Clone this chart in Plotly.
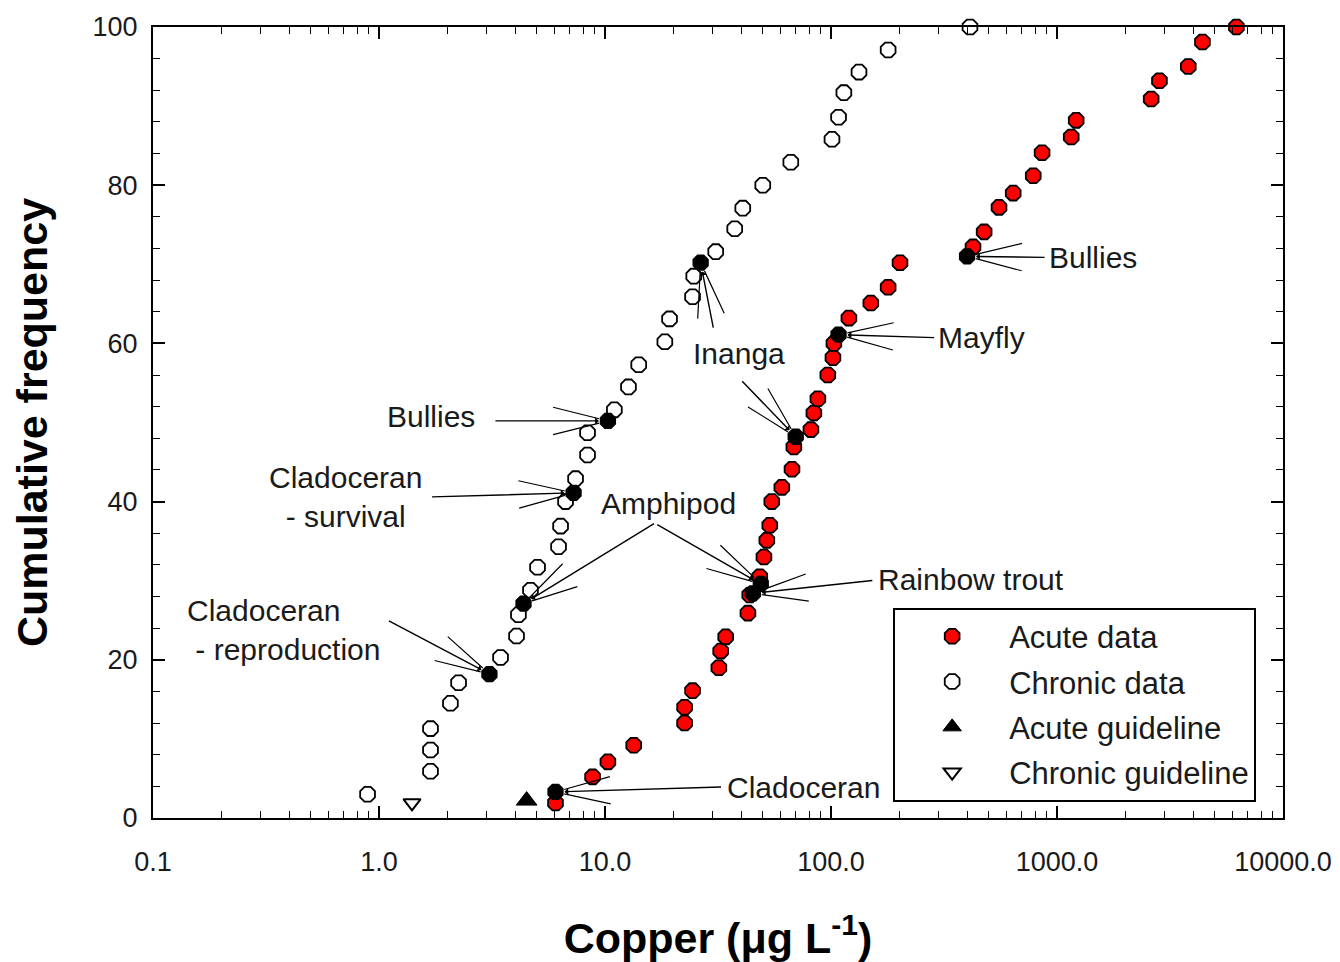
import numpy as np
import plotly.graph_objects as go

# ---------------- data ----------------
acute_x = [6.04, 8.81, 10.3, 13.4, 22.5, 22.5, 24.4, 31.9, 32.5, 34.2,
           42.9, 43.7, 48.4, 50.5, 52.0, 53.6, 54.7, 60.6, 67.2, 68.5,
           81.5, 84.0, 87.5, 96.8, 102, 103, 120, 150, 179, 202,
           425, 476, 554, 640, 785, 859, 1156, 1216, 2610, 2840,
           3810, 4400, 6220]
acute_y = [1.9, 5.2, 7.1, 9.2, 12.0, 14.0, 16.1, 19.0, 21.1, 22.9,
           25.9, 28.2, 30.5, 33.0, 35.1, 37.0, 40.0, 41.8, 44.1, 46.9,
           49.1, 51.2, 53.0, 56.0, 58.2, 60.0, 63.2, 65.1, 67.1, 70.2,
           72.2, 74.1, 77.2, 79.0, 81.2, 84.1, 86.1, 88.2, 90.9, 93.2,
           95.0, 98.1, 100.0]

chronic_x = [0.89, 1.69, 1.69, 1.69, 2.07, 2.25, 3.45, 4.06, 4.14, 4.68,
             5.03, 6.23, 6.36, 6.69, 7.41, 8.37, 8.37, 11.0, 12.7, 14.1,
             18.4, 19.3, 24.4, 24.7, 30.9, 37.5, 40.7, 49.9, 66.4, 101,
             108, 114, 133, 179, 412]
chronic_y = [3.0, 5.9, 8.6, 11.3, 14.5, 17.1, 20.3, 23.0, 25.7, 28.8,
             31.7, 34.3, 36.9, 40.0, 42.9, 45.9, 48.7, 51.6, 54.5, 57.3,
             60.2, 63.1, 65.9, 68.5, 71.6, 74.5, 77.1, 80.0, 82.9, 85.8,
             88.6, 91.7, 94.3, 97.1, 100.0]

acute_guideline_x = [4.5]
acute_guideline_y = [2.2]
chronic_guideline_x = [1.40]
chronic_guideline_y = [1.9]

# highlighted (labelled) species points
highlight_names = ["Cladoceran - reproduction", "Amphipod (chronic)", "Cladoceran - survival",
                   "Bullies (chronic)", "Inanga (chronic)", "Cladoceran (acute)",
                   "Rainbow trout", "Amphipod (acute)", "Inanga (acute)", "Mayfly",
                   "Bullies (acute)"]
highlight_x = [3.08, 4.36, 7.26, 10.3, 26.5, 6.04, 45.1, 48.9, 69.8, 108, 400]
highlight_y = [18.2, 27.1, 41.1, 50.2, 70.2, 3.3, 28.4, 29.6, 48.2, 61.1, 71.0]

# label texts with their anchor positions (data units)
label_texts = ["Bullies", "Cladoceran<br>- survival", "Cladoceran<br> - reproduction",
               "Amphipod", "Inanga", "Mayfly", "Bullies", "Rainbow trout", "Cladoceran"]
label_x = [1.69, 0.71, 0.377, 19.1, 39.1, 461, 1445, 417, 75.9]
label_y = [50.7, 40.6, 23.8, 39.8, 58.7, 60.7, 70.9, 30.1, 3.8]
label_align = ["center", "center", "left", "center", "center", "center", "center", "center", "center"]

# arrows: (highlight index, tail offset x px, tail offset y px)
arrows = [(3, -114, 0), (2, -143, 4), (0, -102, -54), (1, 132, -81), (7, -105, -60),
          (4, 13, 67), (8, -55, -57), (9, 97, 3), (10, 79, 1), (6, 121, -13), (5, 167, -5)]

FONT = "Liberation Sans, Arial, sans-serif"

fig = go.Figure()

fig.add_trace(go.Scatter(
    x=acute_x, y=acute_y, mode="markers", name="Acute data", legendgroup="a",
    marker=dict(symbol="octagon", size=16, color="#ff0000", line=dict(color="black", width=1.8)),
    cliponaxis=False))
fig.add_trace(go.Scatter(
    x=chronic_x, y=chronic_y, mode="markers", name="Chronic data", legendgroup="b",
    marker=dict(symbol="octagon", size=16, color="white", line=dict(color="black", width=1.8)),
    cliponaxis=False))
fig.add_trace(go.Scatter(
    x=acute_guideline_x, y=acute_guideline_y, mode="markers", name="Acute guideline", legendgroup="c",
    marker=dict(symbol="triangle-up", size=18, color="black", line=dict(color="black", width=1)),
    cliponaxis=False))
fig.add_trace(go.Scatter(
    x=chronic_guideline_x, y=chronic_guideline_y, mode="markers", name="Chronic guideline", legendgroup="d",
    marker=dict(symbol="triangle-down", size=15, color="white", line=dict(color="black", width=2)),
    cliponaxis=False))
fig.add_trace(go.Scatter(
    x=highlight_x, y=highlight_y, mode="markers", showlegend=False, text=highlight_names,
    marker=dict(symbol="octagon", size=16, color="black", line=dict(color="black", width=1.5)),
    cliponaxis=False))

annotations = []
for t, lx, ly, al in zip(label_texts, label_x, label_y, label_align):
    annotations.append(dict(x=np.log10(lx), y=ly, xref="x", yref="y", text=t, showarrow=False,
                            align=al, font=dict(family=FONT, size=30, color="#1a1a1a")))

BARB_LEN = 58
BARB_ANG = np.deg2rad(14)
for idx, ax, ay in arrows:
    tx, ty = np.log10(highlight_x[idx]), highlight_y[idx]
    annotations.append(dict(x=tx, y=ty, xref="x", yref="y", text=" ", showarrow=True,
                            ax=ax, ay=ay, arrowhead=1, arrowsize=0.9, arrowwidth=1.4,
                            arrowcolor="black", standoff=9, font=dict(size=1)))
    n = np.hypot(ax, ay)
    ux, uy = ax / n, ay / n
    for s in (1, -1):
        c, si = np.cos(s * BARB_ANG), np.sin(s * BARB_ANG)
        bx = BARB_LEN * (ux * c - uy * si)
        by = BARB_LEN * (ux * si + uy * c)
        annotations.append(dict(x=tx, y=ty, xref="x", yref="y", text=" ", showarrow=True,
                                ax=bx, ay=by, arrowhead=0, arrowwidth=1.2,
                                arrowcolor="black", standoff=9, font=dict(size=1)))

minor_x = [m * 10.0 ** d for d in range(-1, 4) for m in range(2, 10)]

fig.update_layout(
    width=1332, height=954,
    margin=dict(l=145, r=57, t=19, b=144),
    paper_bgcolor="white", plot_bgcolor="white",
    font=dict(family=FONT, size=27, color="#1a1a1a"),
    annotations=annotations,
    legend=dict(x=0.655, y=0.266, xanchor="left", yanchor="top",
                bgcolor="white", bordercolor="black", borderwidth=2,
                font=dict(family=FONT, size=31, color="#1a1a1a"),
                tracegroupgap=2, itemwidth=104),
    xaxis=dict(
        type="log", range=[-1, 4], automargin=False,
        tickvals=[0.1, 1, 10, 100, 1000, 10000],
        ticktext=["0.1", "1.0", "10.0", "100.0", "1000.0", "10000.0"],
        ticks="inside", ticklen=12, tickwidth=1.5, tickcolor="black",
        showline=True, linecolor="black", linewidth=2, mirror="allticks",
        showgrid=False, zeroline=False, ticklabelstandoff=19,
        minor=dict(tickvals=minor_x, ticks="inside", ticklen=7, tickwidth=1.2, tickcolor="black", showgrid=False),
        title=dict(text="Copper (μg L<sup>-1</sup>)", standoff=47,
                   font=dict(family=FONT, size=43, color="black", weight="bold")),
    ),
    yaxis=dict(
        range=[0, 100], tick0=0, dtick=20, automargin=False,
        ticks="inside", ticklen=12, tickwidth=1.5, tickcolor="black",
        showline=True, linecolor="black", linewidth=2, mirror="allticks",
        showgrid=False, zeroline=False, ticklabelstandoff=8,
        minor=dict(dtick=4, ticks="inside", ticklen=7, tickwidth=1.2, tickcolor="black", showgrid=False),
        title=dict(text="Cumulative frequency", standoff=32,
                   font=dict(family=FONT, size=43, color="black", weight="bold")),
    ),
)

fig.write_html("out.html")
